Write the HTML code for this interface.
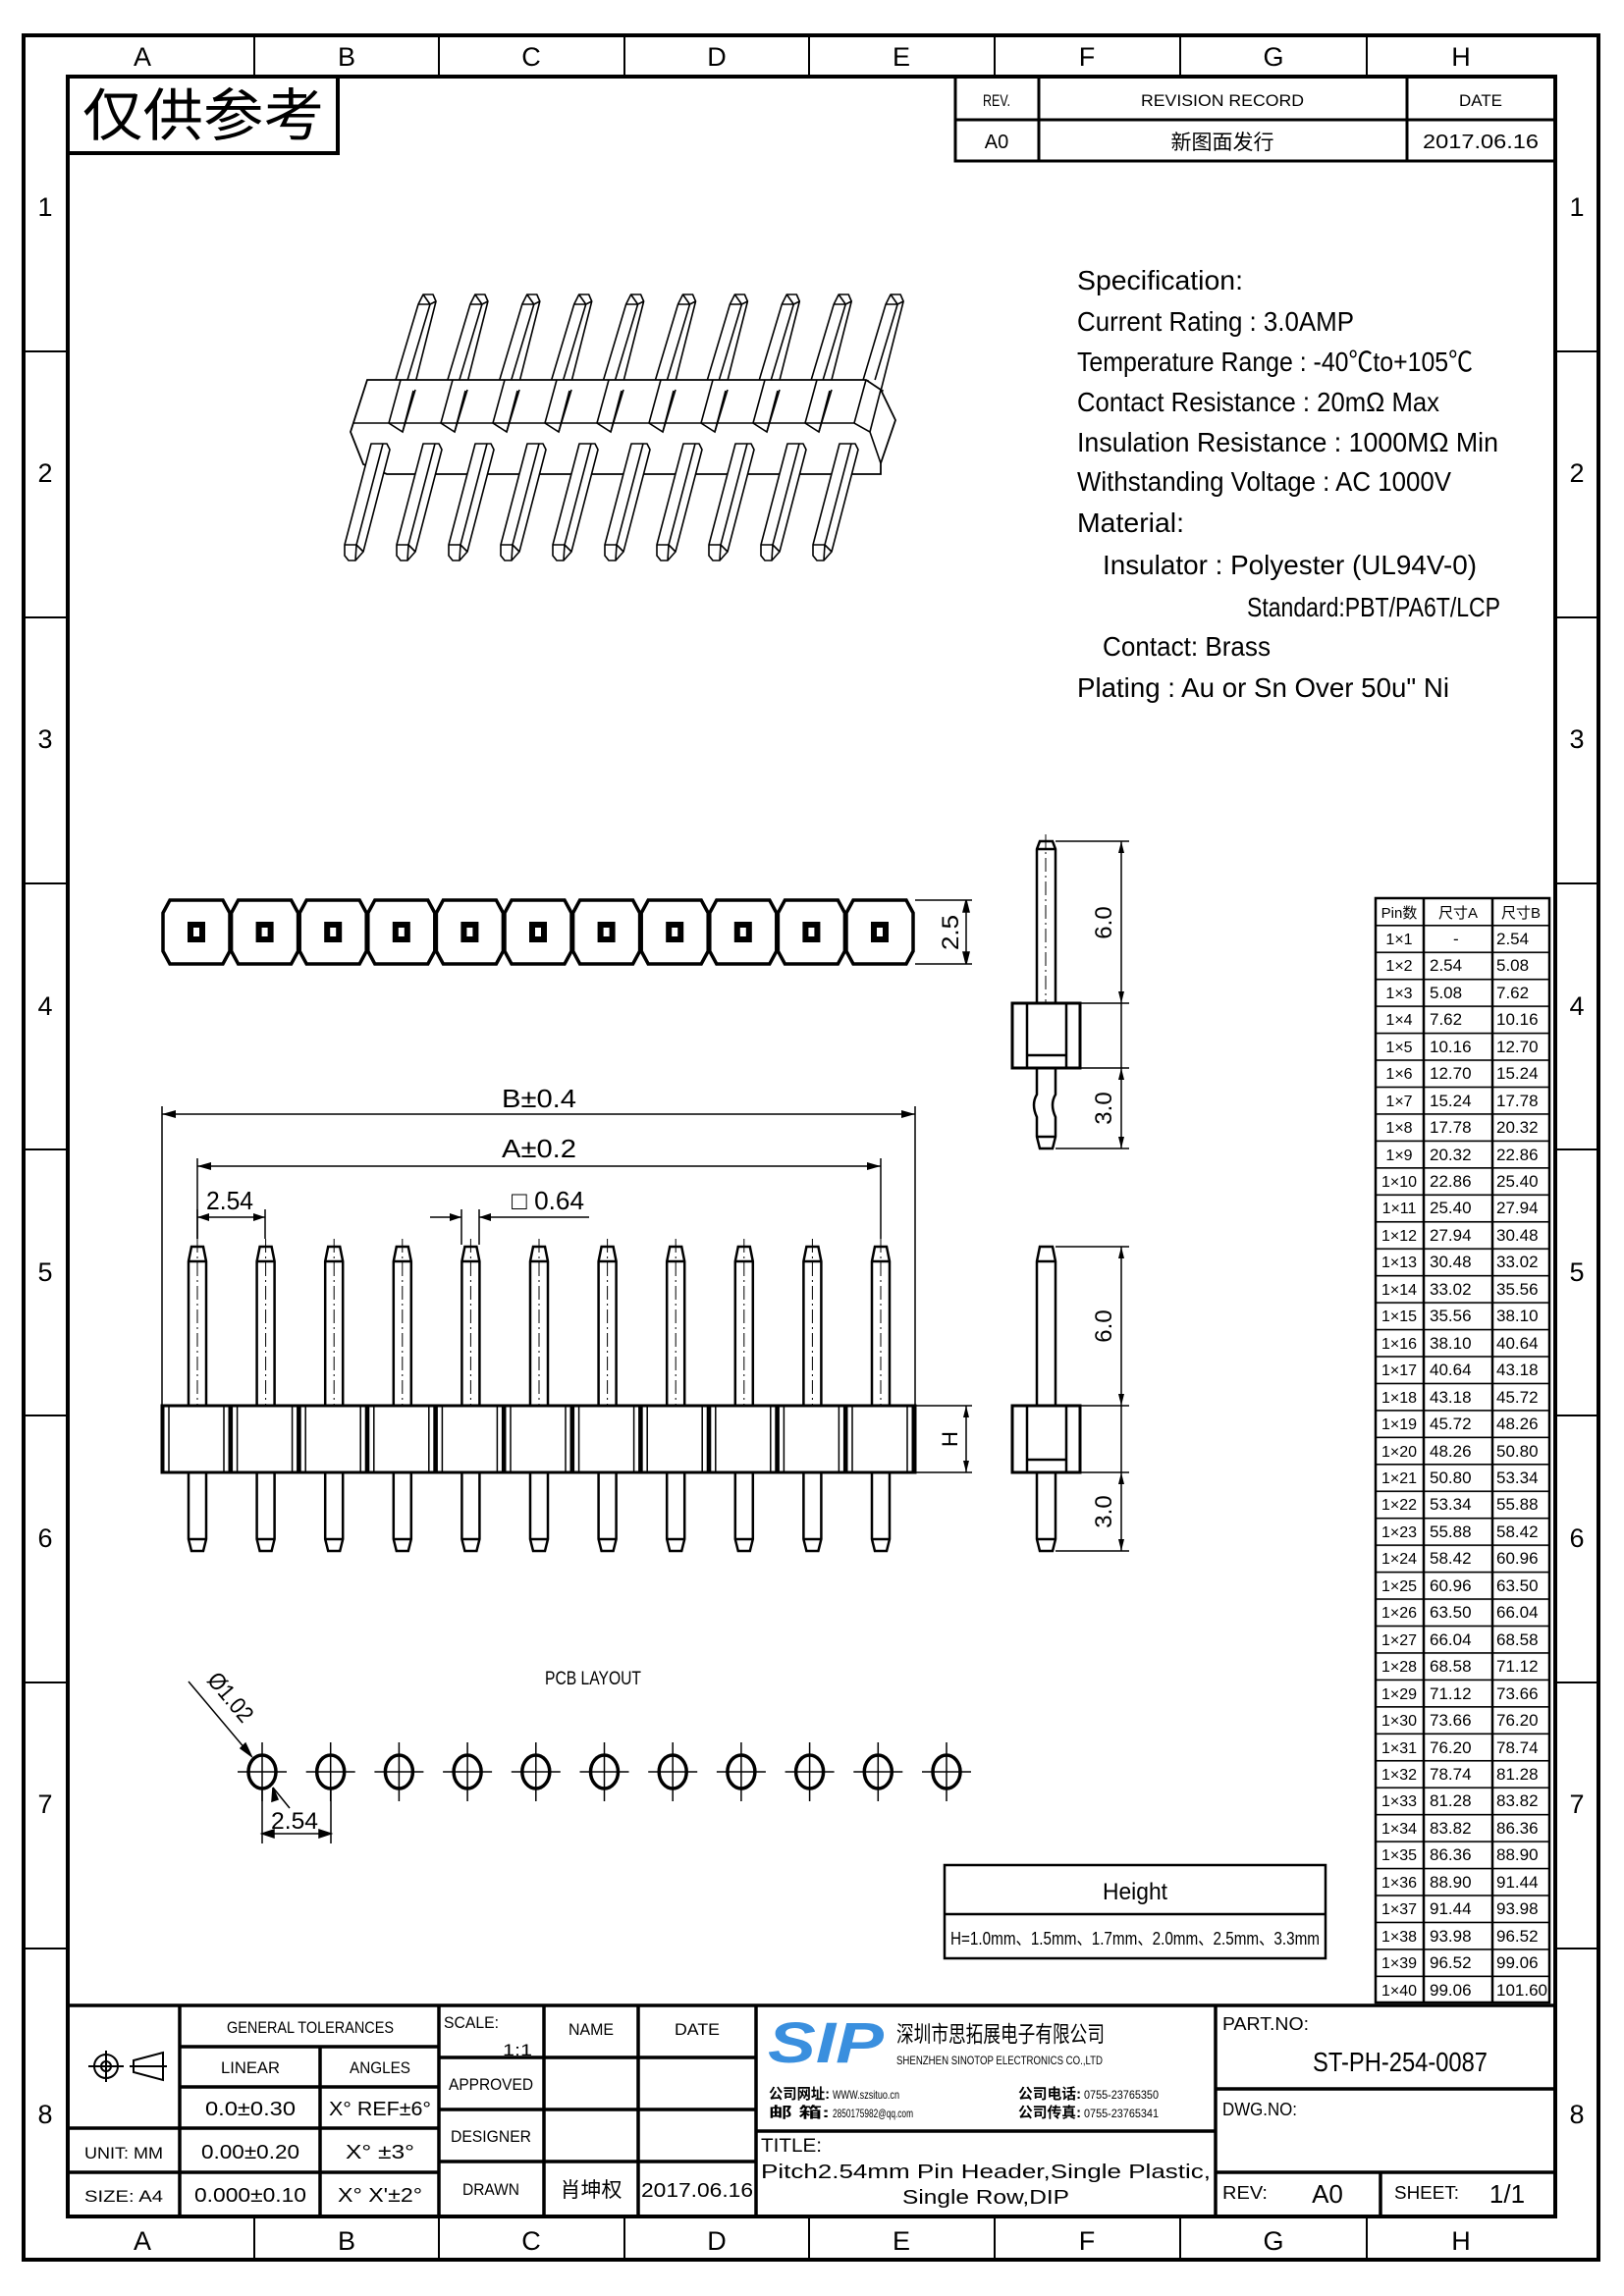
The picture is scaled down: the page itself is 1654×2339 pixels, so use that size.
<!DOCTYPE html>
<html><head><meta charset="utf-8"><style>
html,body{margin:0;padding:0;background:#fff}
svg{display:block}
text{font-family:"Liberation Sans","Noto Sans CJK SC",sans-serif;fill:#000}
</style></head><body>
<svg width="1654" height="2339" viewBox="0 0 1654 2339" xmlns="http://www.w3.org/2000/svg">
<defs>
<pattern id="rows" patternUnits="userSpaceOnUse" x="0" y="942" width="200" height="27.45">
<line x1="0" y1="0.6" x2="200" y2="0.6" stroke="#000" stroke-width="2"/>
</pattern>
<g id="tp" fill="#fff" stroke="#000" stroke-width="1.6" stroke-linejoin="round">
<path d="M403 387 L426 310 L431 300 L441 300 L444 307 L421 398 Z"/>
<path d="M415 387 L438 310 L444 307 M426 310 H438 M431 300 L438 310" fill="none"/>
<path d="M408 387 L396 431 L410 440 L423 397" fill="none"/>
</g>
<g id="bp" fill="#fff" stroke="#000" stroke-width="1.6" stroke-linejoin="round">
<path d="M378 452 L351 555 L351 566 L355 571 L362 571 L370 562 L397 458 L394 452 Z"/>
<path d="M390 452 L363 555 L351 555 M363 555 L370 562 M363 555 L362 571" fill="none"/>
</g>
<g id="oct">
<path d="M131 930 L138 917 L192 917 L199 930 L199 969 L192 982 L138 982 L131 969 Z" fill="#fff" stroke="#000" stroke-width="3.5"/>
<rect x="156" y="939" width="18" height="21" fill="#000"/>
<rect x="162" y="945" width="6" height="9" fill="#fff"/>
</g>
<g id="fp" fill="none" stroke="#000">
<path d="M192 1432 V1285 L195 1270 H207 L210 1285 V1432 M192 1285 H210" stroke-width="2.5"/>
<path d="M201 1262 V1432" stroke-width="1" stroke-dasharray="14 4 2 4"/>
<path d="M192 1500 V1568 L195 1580 H207 L210 1568 V1500 M192 1568 H210" stroke-width="2.5"/>
<rect x="166" y="1432" width="68" height="68" stroke-width="3"/>
<path d="M172 1432 V1500 M228 1432 V1500" stroke-width="1.5"/>
</g>
<g id="hole" fill="none" stroke="#000">
<ellipse cx="267" cy="1805" rx="14" ry="17" stroke-width="3.5"/>
<path d="M242 1805 H292 M267 1775 V1835" stroke-width="1.5"/>
</g>
</defs>

<rect x="24" y="36" width="1604" height="2266" fill="none" stroke="#000" stroke-width="4"/>
<rect x="69" y="78" width="1515" height="2180" fill="none" stroke="#000" stroke-width="4"/>
<g stroke="#000" stroke-width="2">
<path d="M259 36V78 M447 36V78 M636 36V78 M824 36V78 M1013 36V78 M1202 36V78 M1392 36V78"/>
<path d="M259 2258V2302 M447 2258V2302 M636 2258V2302 M824 2258V2302 M1013 2258V2302 M1202 2258V2302 M1392 2258V2302"/>
<path d="M24 358H69 M24 629H69 M24 900H69 M24 1171H69 M24 1442H69 M24 1714H69 M24 1985H69"/>
<path d="M1584 358H1628 M1584 629H1628 M1584 900H1628 M1584 1171H1628 M1584 1442H1628 M1584 1714H1628 M1584 1985H1628"/>
</g>
<g font-size="27" text-anchor="middle">
<text x="145" y="67">A</text><text x="353" y="67">B</text><text x="541" y="67">C</text><text x="730" y="67">D</text><text x="918" y="67">E</text><text x="1107" y="67">F</text><text x="1297" y="67">G</text><text x="1488" y="67">H</text>
<text x="145" y="2292">A</text><text x="353" y="2292">B</text><text x="541" y="2292">C</text><text x="730" y="2292">D</text><text x="918" y="2292">E</text><text x="1107" y="2292">F</text><text x="1297" y="2292">G</text><text x="1488" y="2292">H</text>
<text x="46" y="220">1</text><text x="46" y="491">2</text><text x="46" y="762">3</text><text x="46" y="1034">4</text><text x="46" y="1305">5</text><text x="46" y="1576">6</text><text x="46" y="1847">7</text><text x="46" y="2163">8</text>
<text x="1606" y="220">1</text><text x="1606" y="491">2</text><text x="1606" y="762">3</text><text x="1606" y="1034">4</text><text x="1606" y="1305">5</text><text x="1606" y="1576">6</text><text x="1606" y="1847">7</text><text x="1606" y="2163">8</text>
</g>

<rect x="69" y="78" width="275" height="78" fill="none" stroke="#000" stroke-width="4"/>
<text x="84" y="138" font-size="58" textLength="246" lengthAdjust="spacingAndGlyphs">仅供参考</text>

<g fill="none" stroke="#000" stroke-width="3">
<path d="M973 78 V164 H1584 M973 122 H1584 M1058 78 V164 M1433 78 V164"/>
</g>
<g font-size="17" text-anchor="middle">
<text x="1015" y="108" textLength="28" lengthAdjust="spacingAndGlyphs">REV.</text>
<text x="1245" y="108" textLength="166" lengthAdjust="spacingAndGlyphs">REVISION RECORD</text>
<text x="1508" y="108" textLength="44" lengthAdjust="spacingAndGlyphs">DATE</text>
<text x="1015" y="151" font-size="20">A0</text>
<text x="1245" y="152" font-size="21">新图面发行</text>
<text x="1508" y="151" font-size="20" textLength="118" lengthAdjust="spacingAndGlyphs">2017.06.16</text>
</g>

<g font-size="28">
<text x="1097" y="295" textLength="169" lengthAdjust="spacingAndGlyphs">Specification:</text>
<text x="1097" y="337" textLength="282" lengthAdjust="spacingAndGlyphs">Current Rating : 3.0AMP</text>
<text x="1097" y="378" textLength="403" lengthAdjust="spacingAndGlyphs">Temperature Range : -40℃to+105℃</text>
<text x="1097" y="419" textLength="369" lengthAdjust="spacingAndGlyphs">Contact Resistance : 20mΩ Max</text>
<text x="1097" y="460" textLength="429" lengthAdjust="spacingAndGlyphs">Insulation Resistance : 1000MΩ Min</text>
<text x="1097" y="500" textLength="381" lengthAdjust="spacingAndGlyphs">Withstanding Voltage : AC 1000V</text>
<text x="1097" y="542" textLength="109" lengthAdjust="spacingAndGlyphs">Material:</text>
<text x="1123" y="585" textLength="381" lengthAdjust="spacingAndGlyphs">Insulator : Polyester (UL94V-0)</text>
<text x="1270" y="628" textLength="258" lengthAdjust="spacingAndGlyphs">Standard:PBT/PA6T/LCP</text>
<text x="1123" y="668" textLength="171" lengthAdjust="spacingAndGlyphs">Contact: Brass</text>
<text x="1097" y="710" textLength="379" lengthAdjust="spacingAndGlyphs">Plating : Au or Sn Over 50u" Ni</text>
</g>

<g>
<use href="#tp"/><use href="#tp" x="52.9"/><use href="#tp" x="105.8"/><use href="#tp" x="158.7"/><use href="#tp" x="211.6"/><use href="#tp" x="264.5"/><use href="#tp" x="317.4"/><use href="#tp" x="370.3"/><use href="#tp" x="423.2"/><use href="#tp" x="476.1"/>
<path d="M374 387 H882 L897 397 L912 428 L897 472 V483 H394 L370 473 L357 440 Z" fill="#fff" stroke="#000" stroke-width="1.8"/>
<path d="M360 431 H870 L886 440 L897 472 M882 387 L870 431 M897 397 L886 440" fill="none" stroke="#000" stroke-width="1.6"/>
<g fill="none" stroke="#000" stroke-width="1.6">
<path d="M408 387 L396 431 L410 440 L423 397"/><path d="M461 387 L449 431 L463 440 L476 397"/><path d="M514 387 L502 431 L516 440 L529 397"/><path d="M567 387 L555 431 L569 440 L582 397"/><path d="M620 387 L608 431 L622 440 L635 397"/><path d="M673 387 L661 431 L675 440 L688 397"/><path d="M726 387 L714 431 L728 440 L741 397"/><path d="M779 387 L767 431 L781 440 L794 397"/><path d="M832 387 L820 431 L834 440 L847 397"/>
<path d="M410 440 L421 398 M463 440 L474 398 M516 440 L527 398 M569 440 L580 398 M622 440 L633 398 M675 440 L686 398 M728 440 L739 398 M781 440 L792 398 M834 440 L845 398"/>
</g>
<use href="#bp"/><use href="#bp" x="53"/><use href="#bp" x="106"/><use href="#bp" x="159"/><use href="#bp" x="212"/><use href="#bp" x="265"/><use href="#bp" x="318"/><use href="#bp" x="371"/><use href="#bp" x="424"/><use href="#bp" x="477"/>
</g>

<g transform="translate(35 0)">
<use href="#oct"/><use href="#oct" x="69.6"/><use href="#oct" x="139.2"/><use href="#oct" x="208.8"/><use href="#oct" x="278.4"/><use href="#oct" x="348"/><use href="#oct" x="417.6"/><use href="#oct" x="487.2"/><use href="#oct" x="556.8"/><use href="#oct" x="626.4"/><use href="#oct" x="696"/>
</g>
<g fill="none" stroke="#000" stroke-width="1.5">
<path d="M932 917 H990 M932 982 H990 M984 917 V982"/>
<path d="M984 917 l-3 12 h6 z M984 982 l-3 -12 h6 z" fill="#000"/>
</g>
<text transform="translate(976 950) rotate(-90)" font-size="24" text-anchor="middle" textLength="36" lengthAdjust="spacingAndGlyphs">2.5</text>

<g>
<use href="#fp"/><use href="#fp" x="69.6"/><use href="#fp" x="139.2"/><use href="#fp" x="208.8"/><use href="#fp" x="278.4"/><use href="#fp" x="348"/><use href="#fp" x="417.6"/><use href="#fp" x="487.2"/><use href="#fp" x="556.8"/><use href="#fp" x="626.4"/><use href="#fp" x="696"/>
</g>
<rect x="165" y="1432" width="767" height="68" fill="none" stroke="#000" stroke-width="3"/>
<g fill="none" stroke="#000" stroke-width="1.5">
<path d="M165 1127 V1432 M932 1127 V1432 M165 1135 H932"/>
<path d="M201 1180 V1262 M897 1180 V1262 M201 1188 H897"/>
<path d="M201 1232 V1262 M270 1232 V1262 M201 1240 H270"/>
<path d="M470 1232 V1268 M488 1232 V1268 M438 1240 H470 M488 1240 H600"/>
<path d="M932 1432 H990 M932 1500 H990 M984 1432 V1500"/>
</g>
<g fill="#000">
<path d="M165 1135 l14 -4 v8 z M932 1135 l-14 -4 v8 z M201 1188 l14 -4 v8 z M897 1188 l-14 -4 v8 z M201 1240 l12 -4 v8 z M270 1240 l-12 -4 v8 z M470 1240 l-12 -4 v8 z M488 1240 l12 -4 v8 z M984 1432 l-3 12 h6 z M984 1500 l-3 -12 h6 z"/>
</g>
<g font-size="26" text-anchor="middle">
<text x="549" y="1128" textLength="76" lengthAdjust="spacingAndGlyphs">B±0.4</text>
<text x="549" y="1179" textLength="76" lengthAdjust="spacingAndGlyphs">A±0.2</text>
<text x="234" y="1232" textLength="48" lengthAdjust="spacingAndGlyphs">2.54</text>
<text x="558" y="1232" textLength="74" lengthAdjust="spacingAndGlyphs">□ 0.64</text>
</g>
<text transform="translate(975 1466) rotate(-90)" font-size="22" text-anchor="middle">H</text>

<g transform="translate(-8 0)">
<g fill="none" stroke="#000">
<path d="M1064 1022 V865 L1067 857 H1080 L1083 865 V1022 M1064 865 H1083" stroke-width="2.5"/>
<path d="M1073 850 V1022" stroke-width="1" stroke-dasharray="14 4 2 4"/>
<rect x="1039" y="1022" width="69" height="66" stroke-width="3"/>
<path d="M1054 1022 V1088 M1094 1022 V1088 M1054 1075 H1094" stroke-width="2.5"/>
<path d="M1064 1088 V1115 Q1058 1125 1064 1138 V1158 L1067 1170 H1080 L1083 1158 V1138 Q1077 1125 1083 1115 V1088 M1064 1158 H1083" stroke-width="2.5"/>
<path d="M1083 857 H1158 M1108 1022 H1158 M1108 1088 H1158 M1083 1170 H1158 M1150 857 V1170" stroke-width="1.5"/>
<path d="M1150 857 l-3 12 h6 z M1150 1022 l-3 -12 h6 z M1150 1088 l-3 12 h6 z M1150 1170 l-3 -12 h6 z" fill="#000" stroke="none"/>
</g>
<text transform="translate(1140 940) rotate(-90)" font-size="24" text-anchor="middle">6.0</text>
<text transform="translate(1140 1129) rotate(-90)" font-size="24" text-anchor="middle">3.0</text>

<g fill="none" stroke="#000">
<path d="M1064 1432 V1285 L1067 1270 H1080 L1083 1285 V1432 M1064 1285 H1083" stroke-width="2.5"/>
<rect x="1039" y="1432" width="69" height="68" stroke-width="3"/>
<path d="M1054 1432 V1500 M1094 1432 V1500 M1054 1487 H1094" stroke-width="2.5"/>
<path d="M1064 1500 V1568 L1067 1580 H1080 L1083 1568 V1500 M1064 1568 H1083" stroke-width="2.5"/>
<path d="M1083 1270 H1158 M1108 1432 H1158 M1108 1500 H1158 M1083 1580 H1158 M1150 1270 V1580" stroke-width="1.5"/>
<path d="M1150 1270 l-3 12 h6 z M1150 1432 l-3 -12 h6 z M1150 1500 l-3 12 h6 z M1150 1580 l-3 -12 h6 z" fill="#000" stroke="none"/>
</g>
<text transform="translate(1140 1351) rotate(-90)" font-size="24" text-anchor="middle">6.0</text>
<text transform="translate(1140 1540) rotate(-90)" font-size="24" text-anchor="middle">3.0</text>
</g>

<text x="604" y="1716" font-size="19" text-anchor="middle" textLength="98" lengthAdjust="spacingAndGlyphs">PCB LAYOUT</text>
<g>
<use href="#hole"/><use href="#hole" x="69.7"/><use href="#hole" x="139.4"/><use href="#hole" x="209.1"/><use href="#hole" x="278.8"/><use href="#hole" x="348.5"/><use href="#hole" x="418.2"/><use href="#hole" x="487.9"/><use href="#hole" x="557.6"/><use href="#hole" x="627.3"/><use href="#hole" x="697"/>
</g>
<g fill="none" stroke="#000" stroke-width="1.5">
<path d="M192 1713 L256 1789 M278 1821 L295 1842"/>
<path d="M267 1822 V1878 M337 1822 V1878 M267 1868 H337"/>
<path d="M256 1789 l-11 -8 l5 -5 z M278 1821 l5 12 l-6 2 z M267 1868 l12 -4 v8 z M337 1868 l-12 -4 v8 z" fill="#000"/>
</g>
<text transform="translate(210 1712) rotate(50)" font-size="24" textLength="58" lengthAdjust="spacingAndGlyphs">Ø1.02</text>
<text x="300" y="1863" font-size="24" text-anchor="middle" textLength="48" lengthAdjust="spacingAndGlyphs">2.54</text>

<rect x="962" y="1900" width="388" height="95" fill="none" stroke="#000" stroke-width="2.5"/>
<line x1="962" y1="1950" x2="1350" y2="1950" stroke="#000" stroke-width="2.5"/>
<text x="1156" y="1935" font-size="24" text-anchor="middle" textLength="66" lengthAdjust="spacingAndGlyphs">Height</text>
<text x="1156" y="1981" font-size="18" text-anchor="middle" textLength="376" lengthAdjust="spacingAndGlyphs">H=1.0mm、1.5mm、1.7mm、2.0mm、2.5mm、3.3mm</text>

<rect x="1401" y="942" width="177" height="1098" fill="url(#rows)"/>
<rect x="1401" y="915" width="177" height="1125" fill="none" stroke="#000" stroke-width="2.5"/>
<path d="M1450 915 V2040 M1520 915 V2040" stroke="#000" stroke-width="2.5"/>
<g font-size="15" text-anchor="middle">
<text x="1425" y="935">Pin数</text><text x="1485" y="935">尺寸A</text><text x="1549" y="935">尺寸B</text>
</g>
<g font-size="16" text-anchor="middle">
<text x="1425" y="962">1×1</text><text x="1425" y="989">1×2</text><text x="1425" y="1017">1×3</text><text x="1425" y="1044">1×4</text><text x="1425" y="1072">1×5</text><text x="1425" y="1099">1×6</text><text x="1425" y="1127">1×7</text><text x="1425" y="1154">1×8</text><text x="1425" y="1182">1×9</text><text x="1425" y="1209">1×10</text>
<text x="1425" y="1236">1×11</text><text x="1425" y="1264">1×12</text><text x="1425" y="1291">1×13</text><text x="1425" y="1319">1×14</text><text x="1425" y="1346">1×15</text><text x="1425" y="1374">1×16</text><text x="1425" y="1401">1×17</text><text x="1425" y="1429">1×18</text><text x="1425" y="1456">1×19</text><text x="1425" y="1484">1×20</text>
<text x="1425" y="1511">1×21</text><text x="1425" y="1538">1×22</text><text x="1425" y="1566">1×23</text><text x="1425" y="1593">1×24</text><text x="1425" y="1621">1×25</text><text x="1425" y="1648">1×26</text><text x="1425" y="1676">1×27</text><text x="1425" y="1703">1×28</text><text x="1425" y="1731">1×29</text><text x="1425" y="1758">1×30</text>
<text x="1425" y="1786">1×31</text><text x="1425" y="1813">1×32</text><text x="1425" y="1840">1×33</text><text x="1425" y="1868">1×34</text><text x="1425" y="1895">1×35</text><text x="1425" y="1923">1×36</text><text x="1425" y="1950">1×37</text><text x="1425" y="1978">1×38</text><text x="1425" y="2005">1×39</text><text x="1425" y="2033">1×40</text>
</g>
<g font-size="17">
<text x="1480" y="962">-</text><text x="1456" y="989">2.54</text><text x="1456" y="1017">5.08</text><text x="1456" y="1044">7.62</text><text x="1456" y="1072">10.16</text><text x="1456" y="1099">12.70</text><text x="1456" y="1127">15.24</text><text x="1456" y="1154">17.78</text><text x="1456" y="1182">20.32</text><text x="1456" y="1209">22.86</text>
<text x="1456" y="1236">25.40</text><text x="1456" y="1264">27.94</text><text x="1456" y="1291">30.48</text><text x="1456" y="1319">33.02</text><text x="1456" y="1346">35.56</text><text x="1456" y="1374">38.10</text><text x="1456" y="1401">40.64</text><text x="1456" y="1429">43.18</text><text x="1456" y="1456">45.72</text><text x="1456" y="1484">48.26</text>
<text x="1456" y="1511">50.80</text><text x="1456" y="1538">53.34</text><text x="1456" y="1566">55.88</text><text x="1456" y="1593">58.42</text><text x="1456" y="1621">60.96</text><text x="1456" y="1648">63.50</text><text x="1456" y="1676">66.04</text><text x="1456" y="1703">68.58</text><text x="1456" y="1731">71.12</text><text x="1456" y="1758">73.66</text>
<text x="1456" y="1786">76.20</text><text x="1456" y="1813">78.74</text><text x="1456" y="1840">81.28</text><text x="1456" y="1868">83.82</text><text x="1456" y="1895">86.36</text><text x="1456" y="1923">88.90</text><text x="1456" y="1950">91.44</text><text x="1456" y="1978">93.98</text><text x="1456" y="2005">96.52</text><text x="1456" y="2033">99.06</text>
<text x="1524" y="962">2.54</text><text x="1524" y="989">5.08</text><text x="1524" y="1017">7.62</text><text x="1524" y="1044">10.16</text><text x="1524" y="1072">12.70</text><text x="1524" y="1099">15.24</text><text x="1524" y="1127">17.78</text><text x="1524" y="1154">20.32</text><text x="1524" y="1182">22.86</text><text x="1524" y="1209">25.40</text>
<text x="1524" y="1236">27.94</text><text x="1524" y="1264">30.48</text><text x="1524" y="1291">33.02</text><text x="1524" y="1319">35.56</text><text x="1524" y="1346">38.10</text><text x="1524" y="1374">40.64</text><text x="1524" y="1401">43.18</text><text x="1524" y="1429">45.72</text><text x="1524" y="1456">48.26</text><text x="1524" y="1484">50.80</text>
<text x="1524" y="1511">53.34</text><text x="1524" y="1538">55.88</text><text x="1524" y="1566">58.42</text><text x="1524" y="1593">60.96</text><text x="1524" y="1621">63.50</text><text x="1524" y="1648">66.04</text><text x="1524" y="1676">68.58</text><text x="1524" y="1703">71.12</text><text x="1524" y="1731">73.66</text><text x="1524" y="1758">76.20</text>
<text x="1524" y="1786">78.74</text><text x="1524" y="1813">81.28</text><text x="1524" y="1840">83.82</text><text x="1524" y="1868">86.36</text><text x="1524" y="1895">88.90</text><text x="1524" y="1923">91.44</text><text x="1524" y="1950">93.98</text><text x="1524" y="1978">96.52</text><text x="1524" y="2005">99.06</text><text x="1524" y="2033">101.60</text>
</g>

<g fill="none" stroke="#000" stroke-width="3.5">
<path d="M69 2043 H1584"/>
<path d="M183 2043 V2258 M447 2043 V2258 M554 2043 V2258 M650 2043 V2258 M770 2043 V2258 M1238 2043 V2258 M1406 2213 V2258 M326 2085 V2258"/>
<path d="M183 2085 H447 M183 2126 H447 M69 2168 H447 M69 2213 H447"/>
<path d="M447 2096 H770 M447 2149 H770 M447 2202 H770"/>
<path d="M770 2171 H1238 M1238 2128 H1584 M1238 2213 H1584"/>
</g>
<g fill="none" stroke="#000" stroke-width="2">
<circle cx="108" cy="2105" r="12"/><circle cx="108" cy="2105" r="5"/>
<path d="M90 2105 H126 M108 2089 V2121"/>
<path d="M136 2099 L166 2091 V2119 L136 2111 Z M132 2105 H170"/>
</g>
<g font-size="17" text-anchor="middle">
<text x="316" y="2071" textLength="170" lengthAdjust="spacingAndGlyphs">GENERAL TOLERANCES</text>
<text x="255" y="2112" textLength="60" lengthAdjust="spacingAndGlyphs">LINEAR</text>
<text x="387" y="2112" textLength="62" lengthAdjust="spacingAndGlyphs">ANGLES</text>
<text x="255" y="2155" font-size="20" textLength="92" lengthAdjust="spacingAndGlyphs">0.0±0.30</text>
<text x="387" y="2155" font-size="20" textLength="104" lengthAdjust="spacingAndGlyphs">X° REF±6°</text>
<text x="126" y="2199" textLength="80" lengthAdjust="spacingAndGlyphs">UNIT: MM</text>
<text x="255" y="2199" font-size="20" textLength="100" lengthAdjust="spacingAndGlyphs">0.00±0.20</text>
<text x="387" y="2199" font-size="20" textLength="70" lengthAdjust="spacingAndGlyphs">X° ±3°</text>
<text x="126" y="2243" textLength="80" lengthAdjust="spacingAndGlyphs">SIZE: A4</text>
<text x="255" y="2243" font-size="20" textLength="114" lengthAdjust="spacingAndGlyphs">0.000±0.10</text>
<text x="387" y="2243" font-size="20" textLength="86" lengthAdjust="spacingAndGlyphs">X° X'±2°</text>
<text x="602" y="2073" textLength="46" lengthAdjust="spacingAndGlyphs">NAME</text>
<text x="710" y="2073" textLength="46" lengthAdjust="spacingAndGlyphs">DATE</text>
<text x="500" y="2129" textLength="86" lengthAdjust="spacingAndGlyphs">APPROVED</text>
<text x="500" y="2182" textLength="82" lengthAdjust="spacingAndGlyphs">DESIGNER</text>
<text x="500" y="2236" textLength="58" lengthAdjust="spacingAndGlyphs">DRAWN</text>
<text x="602" y="2238" font-size="21">肖坤权</text>
<text x="710" y="2238" font-size="20" textLength="114" lengthAdjust="spacingAndGlyphs">2017.06.16</text>
</g>
<text x="452" y="2066" font-size="17" textLength="56" lengthAdjust="spacingAndGlyphs">SCALE:</text>
<text x="512" y="2094" font-size="17" textLength="30" lengthAdjust="spacingAndGlyphs">1:1</text>

<text x="782" y="2101" font-size="58" font-weight="bold" font-style="italic" style="fill:#3a8fde" textLength="118" lengthAdjust="spacingAndGlyphs">SIP</text>
<text x="913" y="2080" font-size="23" textLength="212" lengthAdjust="spacingAndGlyphs">深圳市思拓展电子有限公司</text>
<text x="913" y="2103" font-size="12" textLength="210" lengthAdjust="spacingAndGlyphs">SHENZHEN SINOTOP ELECTRONICS CO.,LTD</text>
<g font-size="15" font-weight="bold">
<text x="783" y="2138" textLength="62" lengthAdjust="spacingAndGlyphs">公司网址:</text>
<text x="783" y="2157" textLength="62" lengthAdjust="spacingAndGlyphs">邮    箱:</text>
<text x="1037" y="2138" textLength="64" lengthAdjust="spacingAndGlyphs">公司电话:</text>
<text x="1037" y="2157" textLength="64" lengthAdjust="spacingAndGlyphs">公司传真:</text>
</g>
<g font-size="12">
<text x="848" y="2138" textLength="68" lengthAdjust="spacingAndGlyphs">WWW.szsituo.cn</text>
<text x="848" y="2157" textLength="82" lengthAdjust="spacingAndGlyphs">2850175982@qq.com</text>
<text x="1104" y="2138" textLength="76" lengthAdjust="spacingAndGlyphs">0755-23765350</text>
<text x="1104" y="2157" textLength="76" lengthAdjust="spacingAndGlyphs">0755-23765341</text>
</g>
<text x="775" y="2192" font-size="19" textLength="62" lengthAdjust="spacingAndGlyphs">TITLE:</text>
<text x="775" y="2219" font-size="20" textLength="458" lengthAdjust="spacingAndGlyphs">Pitch2.54mm Pin Header,Single Plastic,</text>
<text x="1004" y="2245" font-size="20" text-anchor="middle" textLength="170" lengthAdjust="spacingAndGlyphs">Single Row,DIP</text>

<text x="1245" y="2068" font-size="18" textLength="88" lengthAdjust="spacingAndGlyphs">PART.NO:</text>
<text x="1426" y="2110" font-size="28" text-anchor="middle" textLength="178" lengthAdjust="spacingAndGlyphs">ST-PH-254-0087</text>
<text x="1245" y="2155" font-size="18" textLength="76" lengthAdjust="spacingAndGlyphs">DWG.NO:</text>
<text x="1245" y="2240" font-size="18" textLength="46" lengthAdjust="spacingAndGlyphs">REV:</text>
<text x="1352" y="2244" font-size="26" text-anchor="middle">A0</text>
<text x="1420" y="2240" font-size="18" textLength="66" lengthAdjust="spacingAndGlyphs">SHEET:</text>
<text x="1535" y="2244" font-size="26" text-anchor="middle">1/1</text>
</svg>
</body></html>
